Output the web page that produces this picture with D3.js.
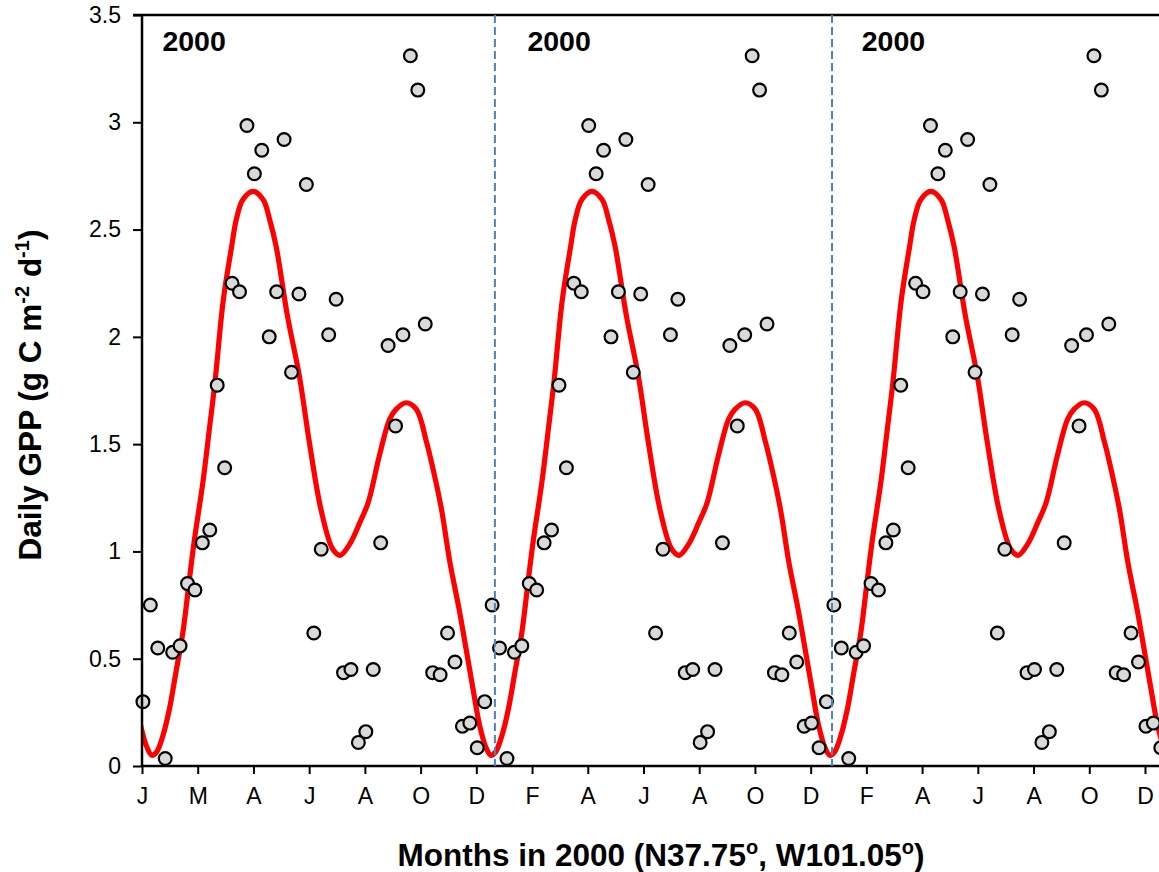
<!DOCTYPE html>
<html>
<head>
<meta charset="utf-8">
<script src="https://cdn.jsdelivr.net/npm/d3@7"></script>
<style>
  html, body { margin: 0; padding: 0; background: #fff; }
  svg { display: block; font-family: "Liberation Sans", Arial, sans-serif; }
</style>
</head>
<body>
<svg id="chart" width="1159" height="872"></svg>
<script>
// 8-day composite GPP for 2000 (46 composites), shown for three consecutive panels
const gpp = [0.30, 0.75, 0.55, 0.035, 0.53, 0.56, 0.85, 0.82, 1.04, 1.10,
             1.775, 1.39, 2.25, 2.21, 2.985, 2.76, 2.87, 2.00, 2.21, 2.92,
             1.835, 2.20, 2.71, 0.62, 1.01, 2.01, 2.175, 0.435, 0.45, 0.11,
             0.16, 0.45, 1.04, 1.96, 1.585, 2.01, 3.31, 3.15, 2.06, 0.435,
             0.425, 0.62, 0.485, 0.185, 0.20, 0.085];
const panelCount = 3;
const compositeStep = 8;       // days between composites
const panelLength = 368;       // 46 composites x 8 days

// Seasonal fit: one cycle, days measured from the winter trough
const fitDay = [0, 5, 12, 19, 26, 33.5, 41, 46, 55, 62, 68, 77, 86, 91, 98, 109,
                120, 127, 134, 146, 159, 170, 182.5, 195, 203, 213, 224, 233, 245,
                256, 263, 274, 285, 296, 303, 312, 321, 331, 338.5, 346, 353, 360];
const fitGpp = [0.05, 0.064, 0.141, 0.265, 0.436, 0.622, 0.886, 1.056, 1.32, 1.568,
                1.786, 2.17, 2.42, 2.546, 2.639, 2.678, 2.639, 2.546, 2.42, 2.1,
                1.816, 1.5, 1.19, 1.01, 0.982, 1.033, 1.134, 1.227, 1.444, 1.615,
                1.662, 1.693, 1.662, 1.507, 1.382, 1.196, 0.95, 0.73, 0.545, 0.358,
                0.19, 0.085];
const fitPeriod = 365;
const fitFirstTrough = 10.5;

// Axis ticks
const tickDays = [0, 60, 120, 180, 240, 300, 360, 420, 480, 540, 600, 660, 720,
                  780, 840, 900, 960, 1020, 1080];
const monthLabels = ["J", "M", "A", "J", "A", "O", "D", "F", "A", "J", "A", "O", "D",
                     "F", "A", "J", "A", "O", "D"];
const gppTicks = [0, 0.5, 1, 1.5, 2, 2.5, 3, 3.5];

// Panel separators and panel captions
const panelBreakDays = [380, 743];
const panelCaptions = ["2000", "2000", "2000"];
const panelCaptionDays = [22, 415, 775];

const svg = d3.select("#chart");
const W = 1159, H = 872;
const plotLeft = 142, plotTop = 15, plotBottom = 766;
const pxPerDay = 0.9287;
const dayMax = 1098;

const x = d3.scaleLinear().domain([0, dayMax]).range([plotLeft, plotLeft + dayMax * pxPerDay]);
const y = d3.scaleLinear().domain([0, 3.5]).range([plotBottom, plotTop]);

svg.append("rect").attr("width", W).attr("height", H).attr("fill", "#fff");

svg.append("defs").append("clipPath").attr("id", "plot-clip")
  .append("rect").attr("x", plotLeft).attr("y", 0).attr("width", W - plotLeft).attr("height", plotBottom + 4);

// fitted seasonal curve, repeated each cycle
const fitPts = [];
for (let k = -1; k <= 3; k++) {
  fitDay.forEach((d, i) => {
    const day = fitFirstTrough + k * fitPeriod + d;
    if (day > -30 && day < dayMax + 30) fitPts.push([day, fitGpp[i]]);
  });
}
const line = d3.line()
  .x(d => x(d[0]))
  .y(d => y(d[1]))
  .curve(d3.curveCatmullRom.alpha(0.5));

svg.append("path")
  .attr("clip-path", "url(#plot-clip)")
  .attr("d", line(fitPts))
  .attr("fill", "none")
  .attr("stroke", "#ff0000")
  .attr("stroke-width", 5.2)
  .attr("stroke-linejoin", "round");

// observed composites
const obs = [];
for (let p = 0; p < panelCount; p++) {
  gpp.forEach((v, i) => obs.push({ day: p * panelLength + 1 + i * compositeStep, v }));
}
svg.append("g").selectAll("circle").data(obs).join("circle")
  .attr("cx", d => x(d.day))
  .attr("cy", d => y(d.v))
  .attr("r", 6.4)
  .attr("fill", "#d9d9d9")
  .attr("stroke", "#000")
  .attr("stroke-width", 2.2);

// axes
const yAxis = svg.append("g")
  .attr("transform", `translate(${plotLeft},0)`)
  .call(d3.axisLeft(y).tickValues(gppTicks).tickFormat(d3.format("~g")).tickSize(9).tickPadding(12));
const xAxis = svg.append("g")
  .attr("transform", `translate(0,${plotBottom})`)
  .call(d3.axisBottom(x).tickValues(tickDays).tickFormat((d, i) => monthLabels[i]).tickSize(8).tickPadding(14));
[yAxis, xAxis].forEach(g => {
  g.select(".domain").attr("stroke", "#000").attr("stroke-width", 2.5);
  g.selectAll(".tick line").attr("stroke", "#000").attr("stroke-width", 2);
  g.selectAll(".tick text").attr("fill", "#000").style("font-size", "23px")
    .style("font-family", "'Liberation Sans', Arial, sans-serif");
});
xAxis.select(".domain").attr("d", `M${plotLeft},0H${W}`);
yAxis.select(".domain").attr("d", `M0,${plotBottom}V${plotTop}`);

// top frame
svg.append("line")
  .attr("x1", plotLeft - 9).attr("x2", W).attr("y1", plotTop).attr("y2", plotTop)
  .attr("stroke", "#000").attr("stroke-width", 2.5);

// panel separators
svg.append("g").selectAll("line").data(panelBreakDays).join("line")
  .attr("x1", d => x(d)).attr("x2", d => x(d))
  .attr("y1", plotTop).attr("y2", plotBottom)
  .attr("stroke", "#4f81bd")
  .attr("stroke-width", 2)
  .attr("stroke-dasharray", "8,4");

// panel captions
svg.append("g").selectAll("text").data(panelCaptions).join("text")
  .attr("x", (d, i) => x(panelCaptionDays[i]))
  .attr("y", 51)
  .attr("font-size", 28.5)
  .attr("font-weight", "bold")
  .text(d => d);

// axis titles
const xTitle = svg.append("text")
  .attr("x", 661).attr("y", 866)
  .attr("text-anchor", "middle")
  .attr("font-size", 31.5).attr("font-weight", "bold");
xTitle.append("tspan").text("Months in 2000 (N37.75");
xTitle.append("tspan").attr("dy", -12).attr("font-size", 20).text("o");
xTitle.append("tspan").attr("dy", 12).text(", W101.05");
xTitle.append("tspan").attr("dy", -12).attr("font-size", 20).text("o");
xTitle.append("tspan").attr("dy", 12).text(")");

const yTitle = svg.append("text")
  .attr("transform", "translate(41,395) rotate(-90)")
  .attr("text-anchor", "middle")
  .attr("font-size", 31.5).attr("font-weight", "bold");
yTitle.append("tspan").text("Daily GPP (g C m");
yTitle.append("tspan").attr("dy", -12).attr("font-size", 20).text("-2");
yTitle.append("tspan").attr("dy", 12).text(" d");
yTitle.append("tspan").attr("dy", -12).attr("font-size", 20).text("-1");
yTitle.append("tspan").attr("dy", 12).text(")");
</script>
</body>
</html>
